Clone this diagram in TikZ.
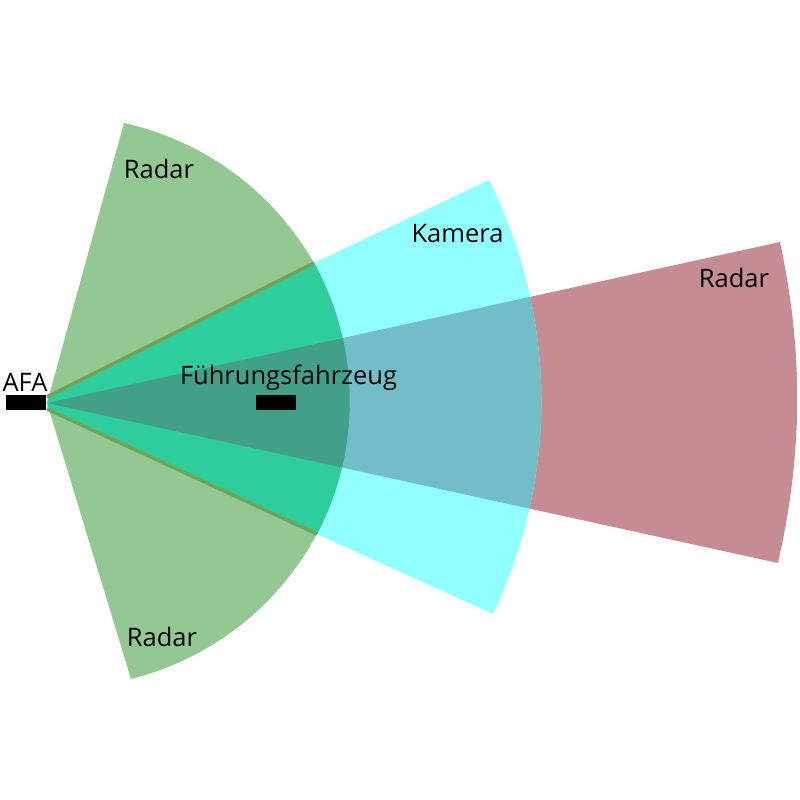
\documentclass[tikz,border=0pt]{standalone}
\usepackage{fontspec}
\setmainfont{Open Sans}
\usepackage{tikz}
\definecolor{radargreen}{RGB}{147,200,147}
\definecolor{radarred}{RGB}{197,140,147}
\definecolor{kameracyan}{RGB}{145,255,255}
\definecolor{redcyan}{RGB}{115,190,198}
\definecolor{greencyan}{RGB}{47,205,155}
\definecolor{allthree}{RGB}{65,160,135}
\definecolor{edgegreen}{RGB}{112,165,88}
\newcommand{\radarredpath}{(apex) -- (redtop) to[bend left=12.4,looseness=0.9] (redbot) -- cycle}
\newcommand{\kamerapath}{(camleft) -- (greentopin) -- (camtop) to[bend left=26,looseness=0.9] (cambot) -- (greenbotin) -- (camleftb) -- cycle}
\newcommand{\radargreenpath}{(apex) -- (greentop) to[bend left=23.6,looseness=0.9] (greentopin) to[bend left=28.5,looseness=0.9] (greenbotin) to[bend left=23.6,looseness=0.9] (greenbot) -- cycle}
\tikzset{
  label text/.style={font=\fontsize{7.25}{9}\selectfont,text=black,inner sep=0pt},
  fahrzeug/.style={fill=black,minimum width=0.4cm,minimum height=0.15cm,inner sep=0pt,draw=none},
  edge line/.style={edgegreen,line width=0.035cm}
}
\begin{document}
\begin{tikzpicture}
\useasboundingbox (0,0) rectangle (8,8);
\fill[white] (0,0) rectangle (8,8);
\coordinate (apex) at (0.47,3.97);
\coordinate (camleft) at (0.47,4.03);
\coordinate (camleftb) at (0.47,3.91);
\coordinate (redtop) at (7.80,5.58);
\coordinate (redbot) at (7.78,2.37);
\coordinate (camtop) at (4.89,6.20);
\coordinate (cambot) at (4.93,1.86);
\coordinate (greentop) at (1.24,6.77);
\coordinate (greenbot) at (1.31,1.21);
\coordinate (greentopin) at (3.14,5.37);
\coordinate (greenbotin) at (3.17,2.66);
% plain areas first
\fill[radarred] \radarredpath;
\fill[kameracyan] \kamerapath;
\fill[radargreen] \radargreenpath;
% overlaps
\begin{scope}
\clip \kamerapath;
\fill[redcyan] \radarredpath;
\fill[greencyan] \radargreenpath;
\clip \radarredpath;
\fill[allthree] \radargreenpath;
\end{scope}
\draw[edge line] (camleft) -- (greentopin);
\draw[edge line] (camleftb) -- (greenbotin);
\node[fahrzeug] (afa) at (0.26,3.97) {};
\node[fahrzeug] (fuehrung) at (2.76,3.97) {};
\node[label text] (afalabel) at (0.25,4.18) {AFA};
\node[label text] (fuehrunglabel) at (2.885,4.22) {Führungsfahrzeug};
\node[label text] (radarone) at (1.59,6.31) {Radar};
\node[label text] (radartwo) at (1.62,1.63) {Radar};
\node[label text] (radarthree) at (7.34,5.22) {Radar};
\node[label text] (kamera) at (4.575,5.66) {Kamera};
\end{tikzpicture}
\end{document}
